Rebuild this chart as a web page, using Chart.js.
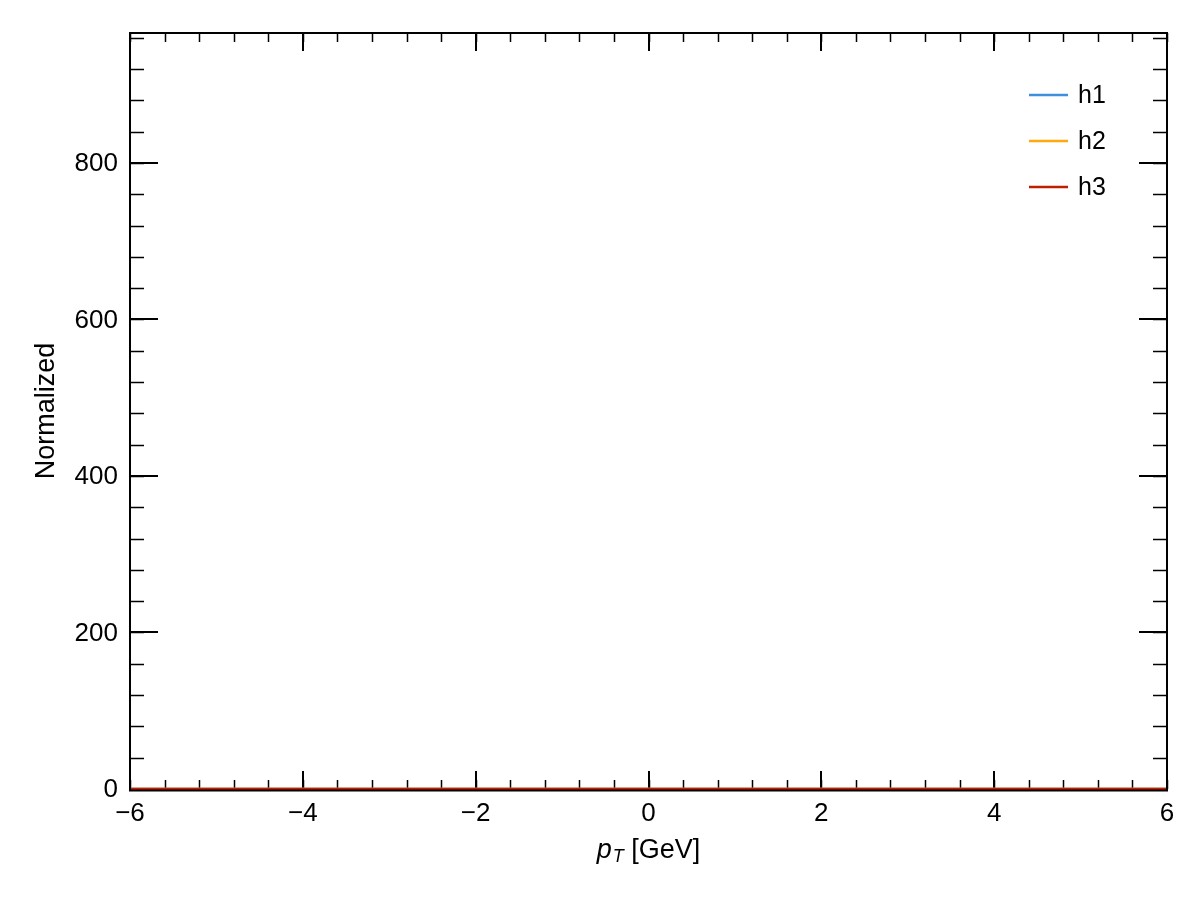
<!DOCTYPE html>
<html>
<head>
<meta charset="utf-8">
<script src="https://cdn.jsdelivr.net/npm/chart.js@4.4.1/dist/chart.umd.min.js"></script>
<style>
  body { margin: 0; background: #fff; }
  #wrap { width: 1200px; height: 900px; }
</style>
</head>
<body>
<div id="wrap"><canvas id="chart"></canvas></div>
<script>
// histogram bins (p_T, GeV) and contents -- all sit on zero
const binEdges = [-6, -5.5, -5, -4.5, -4, -3.5, -3, -2.5, -2, -1.5, -1, -0.5, 0,
                  0.5, 1, 1.5, 2, 2.5, 3, 3.5, 4, 4.5, 5, 5.5, 6];
const h1 = [0, 0, 0, 0, 0, 0, 0, 0, 0, 0, 0, 0, 0, 0, 0, 0, 0, 0, 0, 0, 0, 0, 0, 0];
const h2 = [0, 0, 0, 0, 0, 0, 0, 0, 0, 0, 0, 0, 0, 0, 0, 0, 0, 0, 0, 0, 0, 0, 0, 0];
const h3 = [0, 0, 0, 0, 0, 0, 0, 0, 0, 0, 0, 0, 0, 0, 0, 0, 0, 0, 0, 0, 0, 0, 0, 0];

const xTicks = [-6, -4, -2, 0, 2, 4, 6];
const yTicks = [0, 200, 400, 600, 800];
const xRange = [-6, 6];
const yRange = [0, 966];

const FONT = '"Liberation Sans", Arial, Helvetica, sans-serif';

// turn bin contents into step points (value held until next edge)
function steps(counts) {
    const pts = counts.map((c, i) => ({x: binEdges[i], y: c}));
    pts.push({x: binEdges[binEdges.length - 1], y: counts[counts.length - 1]});
    return pts;
}

// chart.js paints lower "order" on top, so the last histogram gets the lowest
function hist(label, counts, color, order) {
    return {
        label: label,
        data: steps(counts),
        borderColor: color,
        borderWidth: 2.5,
        stepped: 'after',
        pointRadius: 0,
        fill: false,
        clip: false,
        order: order
    };
}

// inward ticks on all four sides go under the histograms,
// frame, tick labels, titles and legend go over them
const hepAxes = {
    id: 'hepAxes',
    beforeDatasetsDraw(chart) {
        const ctx = chart.ctx;
        const a = chart.chartArea;
        const xs = chart.scales.x, ys = chart.scales.y;
        ctx.save();
        ctx.strokeStyle = '#000';

        // minor ticks
        ctx.lineWidth = 1.5;
        ctx.beginPath();
        for (let v = xRange[0]; v <= xRange[1] + 1e-9; v += 0.4) {
            const px = Math.round(xs.getPixelForValue(v)) + 0.5;
            ctx.moveTo(px, a.bottom); ctx.lineTo(px, a.bottom - 9);
            ctx.moveTo(px, a.top); ctx.lineTo(px, a.top + 9);
        }
        for (let v = 0; v <= yRange[1]; v += 40) {
            const py = Math.round(ys.getPixelForValue(v)) + 0.5;
            ctx.moveTo(a.left, py); ctx.lineTo(a.left + 14, py);
            ctx.moveTo(a.right, py); ctx.lineTo(a.right - 14, py);
        }
        ctx.stroke();

        // major ticks
        ctx.lineWidth = 2;
        ctx.beginPath();
        xTicks.forEach(v => {
            const px = Math.round(xs.getPixelForValue(v));
            ctx.moveTo(px, a.bottom); ctx.lineTo(px, a.bottom - 18);
            ctx.moveTo(px, a.top); ctx.lineTo(px, a.top + 18);
        });
        yTicks.forEach(v => {
            const py = Math.round(ys.getPixelForValue(v));
            ctx.moveTo(a.left, py); ctx.lineTo(a.left + 28, py);
            ctx.moveTo(a.right, py); ctx.lineTo(a.right - 28, py);
        });
        ctx.stroke();
        ctx.restore();
    },
    afterDraw(chart) {
        const ctx = chart.ctx;
        const a = chart.chartArea;
        const xs = chart.scales.x, ys = chart.scales.y;
        ctx.save();
        ctx.strokeStyle = '#000';
        ctx.fillStyle = '#000';

        // frame (bottom edge nudged down so the zero-level lines stay visible)
        ctx.lineWidth = 2;
        ctx.beginPath();
        ctx.moveTo(a.left, a.top); ctx.lineTo(a.right, a.top);
        ctx.lineTo(a.right, a.bottom + 1.5); ctx.lineTo(a.left, a.bottom + 1.5);
        ctx.closePath();
        ctx.stroke();

        // tick labels
        ctx.font = '26px ' + FONT;
        ctx.textAlign = 'center';
        ctx.textBaseline = 'top';
        xTicks.forEach(v => {
            const txt = v < 0 ? '\u2212' + Math.abs(v) : String(v);
            ctx.fillText(txt, xs.getPixelForValue(v), a.bottom + 12);
        });
        ctx.textAlign = 'right';
        ctx.textBaseline = 'middle';
        yTicks.forEach(v => {
            ctx.fillText(String(v), a.left - 12, ys.getPixelForValue(v) + 1);
        });

        // x title: p_T [GeV]
        const cx = (a.left + a.right) / 2, base = a.bottom + 69;
        ctx.textBaseline = 'alphabetic';
        ctx.textAlign = 'left';
        ctx.font = 'italic 27px ' + FONT;
        const wp = ctx.measureText('p').width;
        ctx.font = 'italic 18px ' + FONT;
        const wt = ctx.measureText('T').width;
        ctx.font = '27px ' + FONT;
        const wr = ctx.measureText(' [GeV]').width;
        let x0 = cx - (wp + 1 + wt + wr) / 2;
        ctx.font = 'italic 27px ' + FONT;
        ctx.fillText('p', x0, base);
        ctx.font = 'italic 18px ' + FONT;
        ctx.fillText('T', x0 + wp + 1, base + 4);
        ctx.font = '27px ' + FONT;
        ctx.fillText(' [GeV]', x0 + wp + 1 + wt, base);

        // y title
        ctx.save();
        ctx.translate(47, (a.top + a.bottom) / 2);
        ctx.rotate(-Math.PI / 2);
        ctx.textAlign = 'center';
        ctx.textBaseline = 'middle';
        ctx.font = '27px ' + FONT;
        ctx.fillText('Normalized', 0, 0);
        ctx.restore();

        // legend, top right inside the frame
        ctx.font = '25px ' + FONT;
        ctx.textAlign = 'left';
        ctx.textBaseline = 'middle';
        chart.data.datasets.forEach((ds, i) => {
            const y = a.top + 62 + i * 46;
            ctx.strokeStyle = ds.borderColor;
            ctx.lineWidth = 2.5;
            ctx.beginPath();
            ctx.moveTo(1029, y); ctx.lineTo(1068, y);
            ctx.stroke();
            ctx.fillStyle = '#000';
            ctx.fillText(ds.label, 1078, y + 1);
        });
        ctx.restore();
    }
};

const chart = new Chart(document.querySelector('#chart').getContext('2d'), {
    type: 'line',
    data: {
        datasets: [
            hist('h1', h1, '#3f90da', 3),
            hist('h2', h2, '#ffa90e', 2),
            hist('h3', h3, '#bd1f01', 1)
        ]
    },
    options: {
        responsive: true,
        maintainAspectRatio: false,
        animation: false,
        layout: { padding: { left: 130, right: 33, top: 33, bottom: 111 } },
        plugins: { legend: { display: false }, tooltip: { enabled: false } },
        scales: {
            x: { type: 'linear', display: false, min: xRange[0], max: xRange[1] },
            y: { type: 'linear', display: false, min: yRange[0], max: yRange[1] }
        }
    },
    plugins: [hepAxes]
});
</script>
</body>
</html>
